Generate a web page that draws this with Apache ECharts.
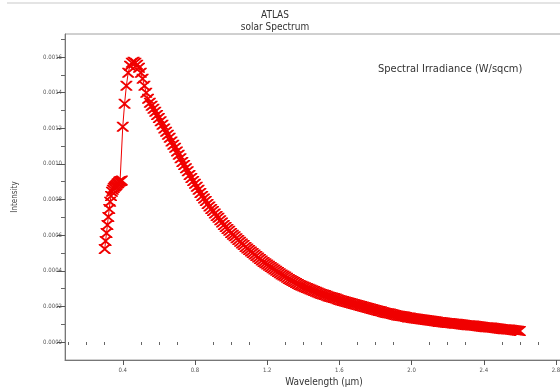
<!DOCTYPE html>
<html><head><meta charset="utf-8">
<script src="https://cdn.jsdelivr.net/npm/echarts@6/dist/echarts.min.js"></script>
<style>html,body{margin:0;padding:0;background:#fff}#c{width:560px;height:388px}</style>
</head><body><div id="c"></div>
<script>
const titleText = 'ATLAS';
const subtitleText = 'solar Spectrum';
const seriesName = 'Spectral Irradiance (W/sqcm)';
const xAxisName = 'Wavelength (\u00b5m)';
const yAxisName = 'Intensity';
const xTickLabels = [0.4, 0.8, 1.2, 1.6, 2.0, 2.4, 2.8];
const yTickLabels = [0, 0.0002, 0.0004, 0.0006, 0.0008, 0.0010, 0.0012, 0.0014, 0.0016];

const wavelength = [
  0.300, 0.305, 0.310, 0.315, 0.320, 0.325, 0.330, 0.335, 0.340, 0.345,
  0.350, 0.355, 0.360, 0.365, 0.370, 0.375, 0.380, 0.385, 0.390, 0.395,
  0.40, 0.41, 0.42, 0.43, 0.44, 0.45, 0.46, 0.47, 0.48, 0.49,
  0.50, 0.51, 0.52, 0.53, 0.54, 0.55, 0.56, 0.57, 0.58, 0.59,
  0.60, 0.61, 0.62, 0.63, 0.64, 0.65, 0.66, 0.67, 0.68, 0.69,
  0.70, 0.71, 0.72, 0.73, 0.74, 0.75, 0.76, 0.77, 0.78, 0.79,
  0.80, 0.81, 0.82, 0.83, 0.84, 0.85, 0.86, 0.87, 0.88, 0.89,
  0.90, 0.91, 0.92, 0.93, 0.94, 0.95, 0.96, 0.97, 0.98, 0.99,
  1.00, 1.01, 1.02, 1.03, 1.04, 1.05, 1.06, 1.07, 1.08, 1.09,
  1.10, 1.11, 1.12, 1.13, 1.14, 1.15, 1.16, 1.17, 1.18, 1.19,
  1.20, 1.21, 1.22, 1.23, 1.24, 1.25, 1.26, 1.27, 1.28, 1.29,
  1.30, 1.31, 1.32, 1.33, 1.34, 1.35, 1.36, 1.37, 1.38, 1.39,
  1.40, 1.41, 1.42, 1.43, 1.44, 1.45, 1.46, 1.47, 1.48, 1.49,
  1.50, 1.51, 1.52, 1.53, 1.54, 1.55, 1.56, 1.57, 1.58, 1.59,
  1.60, 1.61, 1.62, 1.63, 1.64, 1.65, 1.66, 1.67, 1.68, 1.69,
  1.70, 1.71, 1.72, 1.73, 1.74, 1.75, 1.76, 1.77, 1.78, 1.79,
  1.80, 1.81, 1.82, 1.83, 1.84, 1.85, 1.86, 1.87, 1.88, 1.89,
  1.90, 1.91, 1.92, 1.93, 1.94, 1.95, 1.96, 1.97, 1.98, 1.99,
  2.00, 2.01, 2.02, 2.03, 2.04, 2.05, 2.06, 2.07, 2.08, 2.09,
  2.10, 2.11, 2.12, 2.13, 2.14, 2.15, 2.16, 2.17, 2.18, 2.19,
  2.20, 2.21, 2.22, 2.23, 2.24, 2.25, 2.26, 2.27, 2.28, 2.29,
  2.30, 2.31, 2.32, 2.33, 2.34, 2.35, 2.36, 2.37, 2.38, 2.39,
  2.40, 2.41, 2.42, 2.43, 2.44, 2.45, 2.46, 2.47, 2.48, 2.49,
  2.50, 2.51, 2.52, 2.53, 2.54, 2.55, 2.56, 2.57, 2.58, 2.59,
  2.60
];
const irradiance = [
  0.000522, 0.000567, 0.000612, 0.000657, 0.000702, 0.000747, 0.000787, 0.000820, 0.000843, 0.000855,
  0.000865, 0.000871, 0.000876, 0.000882, 0.000888, 0.000893, 0.000899, 0.000902, 0.000904, 0.000906,
  0.001208, 0.001337, 0.001438, 0.001511, 0.001551, 0.001567, 0.001573, 0.001567, 0.001556, 0.001539,
  0.001511, 0.001478, 0.001438, 0.001399, 0.001365, 0.001343, 0.001326, 0.001309, 0.001292, 0.001275,
  0.001258, 0.001239, 0.001219, 0.001199, 0.001180, 0.001163, 0.001146, 0.001126, 0.001107, 0.001090,
  0.001070, 0.001051, 0.001031, 0.001011, 0.000994, 0.000975, 0.000958, 0.000938, 0.000921, 0.000904,
  0.000888, 0.000871, 0.000854, 0.000837, 0.000820, 0.000806, 0.000792, 0.000775, 0.000761, 0.000747,
  0.000736, 0.000722, 0.000708, 0.000697, 0.000683, 0.000671, 0.000657, 0.000646, 0.000635, 0.000624,
  0.000612, 0.000602, 0.000593, 0.000583, 0.000573, 0.000563, 0.000553, 0.000544, 0.000534, 0.000525,
  0.000517, 0.000508, 0.000500, 0.000491, 0.000483, 0.000474, 0.000466, 0.000457, 0.000449, 0.000442,
  0.000435, 0.000428, 0.000421, 0.000414, 0.000407, 0.000400, 0.000393, 0.000386, 0.000379, 0.000373,
  0.000368, 0.000361, 0.000354, 0.000348, 0.000343, 0.000337, 0.000331, 0.000326, 0.000320, 0.000316,
  0.000312, 0.000307, 0.000303, 0.000299, 0.000295, 0.000291, 0.000287, 0.000282, 0.000278, 0.000274,
  0.000270, 0.000267, 0.000264, 0.000260, 0.000256, 0.000253, 0.000250, 0.000247, 0.000244, 0.000240,
  0.000236, 0.000233, 0.000230, 0.000228, 0.000225, 0.000222, 0.000219, 0.000216, 0.000213, 0.000211,
  0.000208, 0.000205, 0.000202, 0.000200, 0.000197, 0.000194, 0.000191, 0.000188, 0.000185, 0.000183,
  0.000180, 0.000177, 0.000174, 0.000172, 0.000169, 0.000166, 0.000163, 0.000162, 0.000160, 0.000157,
  0.000154, 0.000152, 0.000149, 0.000148, 0.000146, 0.000145, 0.000143, 0.000140, 0.000138, 0.000137,
  0.000135, 0.000134, 0.000132, 0.000131, 0.000129, 0.000128, 0.000126, 0.000125, 0.000124, 0.000122,
  0.000121, 0.000119, 0.000118, 0.000116, 0.000115, 0.000113, 0.000112, 0.000111, 0.000110, 0.000108,
  0.000107, 0.000106, 0.000105, 0.000104, 0.000103, 0.000102, 0.000101, 0.0000997, 0.0000983, 0.0000969,
  0.0000955, 0.0000946, 0.0000938, 0.0000929, 0.0000921, 0.0000910, 0.0000899, 0.0000885, 0.0000871, 0.0000857,
  0.0000843, 0.0000834, 0.0000826, 0.0000817, 0.0000809, 0.0000798, 0.0000787, 0.0000772, 0.0000758, 0.0000744,
  0.0000730, 0.0000722, 0.0000713, 0.0000705, 0.0000697, 0.0000686, 0.0000674, 0.0000660, 0.0000646, 0.0000632,
  0.0000618
];

const seriesData = wavelength.map((w, i) => [w, irradiance[i]]);

// minor tick positions: split each major x interval in four, each y interval in two
const xMinor = [];
for (let i = 0; i < xTickLabels.length; i++) {
  const b = xTickLabels[i];
  for (let k = 1; k < 4; k++) {
    const v = +(b - k * 0.1).toFixed(2);
    if (v > 0.08 && xMinor.indexOf(v) < 0) xMinor.push(v);
  }
}
const yMinor = [];
for (let i = 0; i < yTickLabels.length; i++) yMinor.push(+(yTickLabels[i] + 0.0001).toFixed(4));

const font = "'Liberation Sans Narrow', 'DejaVu Sans Condensed', sans-serif";
const XMIN = 0.08, XMAX = 2.85, YMIN = -0.000101, YMAX = 0.001729;
const crossPath = 'path://M0,0L1.6,0L5,3.6L8.4,0L10,0L10,1L6,5L10,9L10,10L8.4,10L5,6.4L1.6,10L0,10L0,9L4,5L0,1Z';

const chart = echarts.init(document.getElementById('c'), null, {renderer: 'canvas'});
chart.setOption({
  animation: false,
  backgroundColor: '#ffffff',
  title: [
    {text: titleText, left: 270, top: 5, textAlign: 'center',
     textStyle: {fontFamily: font, fontSize: 10, fontWeight: 'normal', color: '#333'}},
    {text: subtitleText, left: 270, top: 17, textAlign: 'center',
     textStyle: {fontFamily: font, fontSize: 10, fontWeight: 'normal', color: '#333'}}
  ],
  graphic: [
    {type: 'rect', shape: {x: 7, y: 2, width: 553, height: 2}, style: {fill: '#e4e4e4'}, silent: true},
    {type: 'text', left: 378, top: 64, style: {text: seriesName, fontFamily: font, fontSize: 11, fill: '#333'}}
  ],
  grid: {left: 65, top: 34, width: 500, height: 326, outerBoundsMode: 'none', containLabel: false,
         show: true, borderColor: '#a0a0a0', borderWidth: 1, backgroundColor: 'transparent'},
  xAxis: [
    {type: 'value', min: XMIN, max: XMAX, position: 'bottom',
     name: xAxisName, nameLocation: 'middle', nameGap: 13,
     nameTextStyle: {fontFamily: font, fontSize: 10, color: '#333', padding: [0, 0, 0, 18]},
     axisLine: {show: true, onZero: false, lineStyle: {color: '#777', width: 1}},
     axisTick: {show: true, length: 5, customValues: xTickLabels, lineStyle: {color: '#555'}},
     axisLabel: {show: true, customValues: xTickLabels, margin: 7, fontFamily: font, fontSize: 6, color: '#555',
                 formatter: v => v.toFixed(1)},
     splitLine: {show: false}},
    {type: 'value', min: XMIN, max: XMAX, position: 'bottom',
     axisLine: {show: false},
     axisTick: {show: true, length: 3, customValues: xMinor, lineStyle: {color: '#666'}},
     axisLabel: {show: false}, splitLine: {show: false}}
  ],
  yAxis: [
    {type: 'value', min: YMIN, max: YMAX, position: 'left',
     name: yAxisName, nameLocation: 'middle', nameGap: 46, nameRotate: 90,
     nameTextStyle: {fontFamily: font, fontSize: 8, color: '#444', letterSpacing: 2},
     axisLine: {show: true, onZero: false, lineStyle: {color: '#777', width: 1}},
     axisTick: {show: true, length: 8, customValues: yTickLabels, lineStyle: {color: '#555'}},
     axisLabel: {show: true, customValues: yTickLabels, margin: 3, fontFamily: font, fontSize: 6, color: '#555',
                 formatter: v => v.toFixed(4)},
     splitLine: {show: false}},
    {type: 'value', min: YMIN, max: YMAX, position: 'left',
     axisLine: {show: false},
     axisTick: {show: true, length: 4, customValues: yMinor, lineStyle: {color: '#666'}},
     axisLabel: {show: false}, splitLine: {show: false}}
  ],
  series: [{
    name: seriesName, type: 'line', xAxisIndex: 0, yAxisIndex: 0,
    data: seriesData,
    showSymbol: true, showAllSymbol: true,
    symbol: crossPath, symbolSize: [12, 10],
    itemStyle: {color: '#f00000'},
    lineStyle: {color: '#f00000', width: 1},
    silent: true
  }]
});
</script>
</body></html>
